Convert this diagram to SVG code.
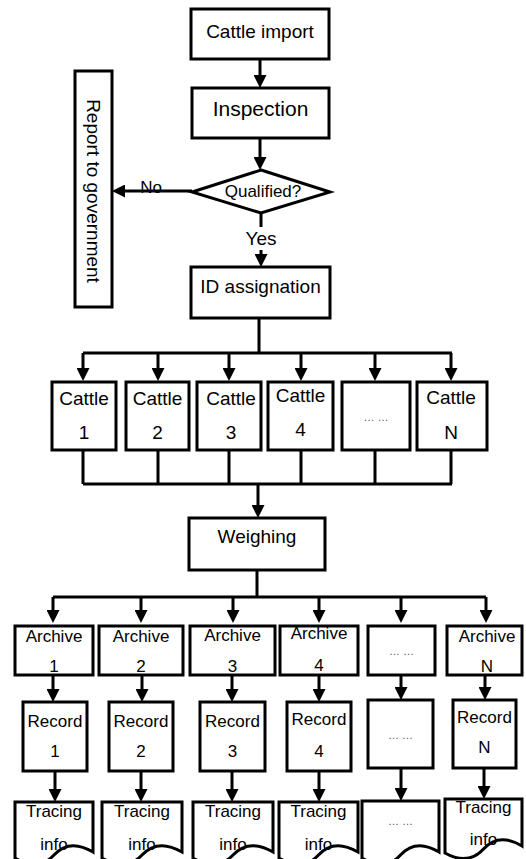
<svg xmlns="http://www.w3.org/2000/svg" width="526" height="859" viewBox="0 0 526 859">
<style>
.b{fill:#fff;stroke:#000;stroke-width:3}
.c{fill:none;stroke:#000;stroke-width:3}
text{font-family:"Liberation Sans",Arial,sans-serif;fill:#000;text-anchor:middle}
.f19{font-size:19px}
.f17{font-size:17px}
.dots{font-size:11px;fill:#555}
</style>
<defs>
<marker id="ah" markerUnits="userSpaceOnUse" markerWidth="13" markerHeight="13" refX="0" refY="6.5" orient="auto">
<path d="M0,0 L13,6.5 L0,13 z" fill="#000"/>
</marker>
</defs>
<rect width="526" height="859" fill="#fff"/>
<g id="connectors">
<line class="c" x1="260" y1="59" x2="260" y2="75" marker-end="url(#ah)"/>
<line class="c" x1="260" y1="138" x2="260" y2="157" marker-end="url(#ah)"/>
<line class="c" x1="192" y1="191" x2="125" y2="191" marker-end="url(#ah)"/>
<line class="c" x1="261" y1="212" x2="261" y2="227"/>
<line class="c" x1="261" y1="250" x2="261" y2="254" marker-end="url(#ah)"/>
<path class="c" d="M259,318 V353 M83,353 H452"/>
<line class="c" x1="83" y1="353" x2="83" y2="368" marker-end="url(#ah)"/>
<line class="c" x1="158" y1="353" x2="158" y2="368" marker-end="url(#ah)"/>
<line class="c" x1="229" y1="353" x2="229" y2="368" marker-end="url(#ah)"/>
<line class="c" x1="301" y1="353" x2="301" y2="368" marker-end="url(#ah)"/>
<line class="c" x1="375" y1="353" x2="375" y2="368" marker-end="url(#ah)"/>
<line class="c" x1="451" y1="353" x2="451" y2="368" marker-end="url(#ah)"/>
<path class="c" d="M83,450 V484 M158,450 V484 M229,450 V484 M301,450 V484 M375,450 V484 M451,450 V484 M83,484 H452"/>
<line class="c" x1="258" y1="484" x2="258" y2="505" marker-end="url(#ah)"/>
<path class="c" d="M257,570 V597 M53,597 H486"/>
<line class="c" x1="53" y1="597" x2="53" y2="610" marker-end="url(#ah)"/>
<line class="c" x1="141" y1="597" x2="141" y2="610" marker-end="url(#ah)"/>
<line class="c" x1="233" y1="597" x2="233" y2="610" marker-end="url(#ah)"/>
<line class="c" x1="319" y1="597" x2="319" y2="610" marker-end="url(#ah)"/>
<line class="c" x1="401" y1="597" x2="401" y2="610" marker-end="url(#ah)"/>
<line class="c" x1="486" y1="597" x2="486" y2="610" marker-end="url(#ah)"/>
<line class="c" x1="53" y1="675" x2="53" y2="689" marker-end="url(#ah)"/>
<line class="c" x1="142" y1="675" x2="142" y2="689" marker-end="url(#ah)"/>
<line class="c" x1="232" y1="675" x2="232" y2="689" marker-end="url(#ah)"/>
<line class="c" x1="319" y1="675" x2="319" y2="689" marker-end="url(#ah)"/>
<line class="c" x1="401" y1="675" x2="401" y2="687" marker-end="url(#ah)"/>
<line class="c" x1="485" y1="675" x2="485" y2="687" marker-end="url(#ah)"/>
<line class="c" x1="55" y1="771" x2="55" y2="789" marker-end="url(#ah)"/>
<line class="c" x1="141" y1="771" x2="141" y2="789" marker-end="url(#ah)"/>
<line class="c" x1="232" y1="771" x2="232" y2="789" marker-end="url(#ah)"/>
<line class="c" x1="319" y1="771" x2="319" y2="789" marker-end="url(#ah)"/>
<line class="c" x1="401" y1="768" x2="401" y2="788" marker-end="url(#ah)"/>
<line class="c" x1="484" y1="768" x2="484" y2="786" marker-end="url(#ah)"/>
</g>
<g id="cattle-import"><rect class="b" x="191" y="9" width="138" height="50"/><text class="f19" x="260" y="38">Cattle import</text></g>
<g id="inspection"><rect class="b" x="192" y="88" width="137" height="50"/><text x="260.5" y="116" style="font-size:21px">Inspection</text></g>
<g id="qualified"><polygon class="b" points="261,170 330,192 261,213 192,192"/><text class="f17" x="263" y="197">Qualified?</text></g>
<g id="no-label"><text class="f17" x="151" y="193">No</text></g>
<g id="yes-label"><text class="f19" x="261" y="245">Yes</text></g>
<g id="report"><rect class="b" x="75" y="71" width="37" height="236"/><text class="f19" transform="translate(87,191) rotate(90)" x="0" y="0">Report to government</text></g>
<g id="id-assignation"><rect class="b" x="191" y="267" width="139" height="51"/><text class="f19" x="260.5" y="293">ID assignation</text></g>
<g id="cattle1"><rect class="b" x="52" y="382" width="64" height="68"/><text class="f19" x="84" y="405">Cattle</text><text class="f19" x="84" y="439">1</text></g>
<g id="cattle2"><rect class="b" x="126" y="382" width="63" height="68"/><text class="f19" x="157.5" y="405">Cattle</text><text class="f19" x="157.5" y="439">2</text></g>
<g id="cattle3"><rect class="b" x="197" y="382" width="64" height="68"/><text class="f19" x="231" y="405">Cattle</text><text class="f19" x="231" y="439">3</text></g>
<g id="cattle4"><rect class="b" x="268" y="382" width="65" height="68"/><text class="f19" x="300.5" y="402">Cattle</text><text class="f19" x="300.5" y="436">4</text></g>
<g id="cattle5"><rect class="b" x="342" y="382" width="68" height="68"/><text class="dots" x="376" y="421">… …</text></g>
<g id="cattleN"><rect class="b" x="417" y="382" width="70" height="68"/><text class="f19" x="451" y="404">Cattle</text><text class="f19" x="451" y="439">N</text></g>
<g id="weighing"><rect class="b" x="189" y="518" width="136" height="52"/><text class="f19" x="257" y="543">Weighing</text></g>
<g id="archive1"><rect class="b" x="15" y="626" width="78" height="49"/><text class="f17" x="54" y="642">Archive</text><text class="f17" x="54" y="672">1</text></g>
<g id="archive2"><rect class="b" x="99" y="626" width="84" height="49"/><text class="f17" x="141" y="642">Archive</text><text class="f17" x="141" y="672">2</text></g>
<g id="archive3"><rect class="b" x="190" y="626" width="85" height="49"/><text class="f17" x="232.5" y="641">Archive</text><text class="f17" x="232.5" y="672">3</text></g>
<g id="archive4"><rect class="b" x="280" y="626" width="78" height="49"/><text class="f17" x="319" y="639">Archive</text><text class="f17" x="319" y="671">4</text></g>
<g id="archive5"><rect class="b" x="368" y="626" width="67" height="49"/><text class="dots" x="401.5" y="655">… …</text></g>
<g id="archiveN"><rect class="b" x="447" y="626" width="75" height="49"/><text class="f17" x="487" y="642">Archive</text><text class="f17" x="487" y="672">N</text></g>
<g id="record1"><rect class="b" x="23" y="702" width="64" height="69"/><text class="f17" x="55" y="727">Record</text><text class="f17" x="55" y="757">1</text></g>
<g id="record2"><rect class="b" x="109" y="702" width="64" height="69"/><text class="f17" x="141" y="727">Record</text><text class="f17" x="141" y="757">2</text></g>
<g id="record3"><rect class="b" x="200" y="702" width="65" height="69"/><text class="f17" x="232.5" y="727">Record</text><text class="f17" x="232.5" y="757">3</text></g>
<g id="record4"><rect class="b" x="287" y="702" width="64" height="69"/><text class="f17" x="319" y="725">Record</text><text class="f17" x="319" y="757">4</text></g>
<g id="record5"><rect class="b" x="368" y="700" width="65" height="68"/><text class="dots" x="400.5" y="739">… …</text></g>
<g id="recordN"><rect class="b" x="453" y="700" width="63" height="68"/><text class="f17" x="484.5" y="723">Record</text><text class="f17" x="484.5" y="753">N</text></g>
<g id="tracing1"><path class="b" d="M15,858 V802 H93 V852 Q69.6,838 54,855 T15,858 Z"/><text class="f17" x="54" y="817">Tracing</text><text class="f17" x="54" y="850">info</text></g>
<g id="tracing2"><path class="b" d="M102,858 V802 H182 V852 Q158,838 142,855 T102,858 Z"/><text class="f17" x="142" y="817">Tracing</text><text class="f17" x="142" y="850">info</text></g>
<g id="tracing3"><path class="b" d="M193,858 V802 H273 V852 Q249,838 233,855 T193,858 Z"/><text class="f17" x="233" y="817">Tracing</text><text class="f17" x="233" y="850">info</text></g>
<g id="tracing4"><path class="b" d="M279,858 V802 H358 V852 Q334,838 318.5,855 T279,858 Z"/><text class="f17" x="318.5" y="817">Tracing</text><text class="f17" x="318.5" y="850">info</text></g>
<g id="tracing5"><path class="b" d="M362,858 V801 H439 V852 Q416,838 400.5,855 T362,858 Z"/><text class="dots" x="400.5" y="825">… …</text></g>
<g id="tracingN"><path class="b" d="M445,853 V799 H522 V846 Q499,832 483.5,849 T445,853 Z"/><text class="f17" x="483.5" y="813">Tracing</text><text class="f17" x="483.5" y="845">info</text></g>
</svg>
